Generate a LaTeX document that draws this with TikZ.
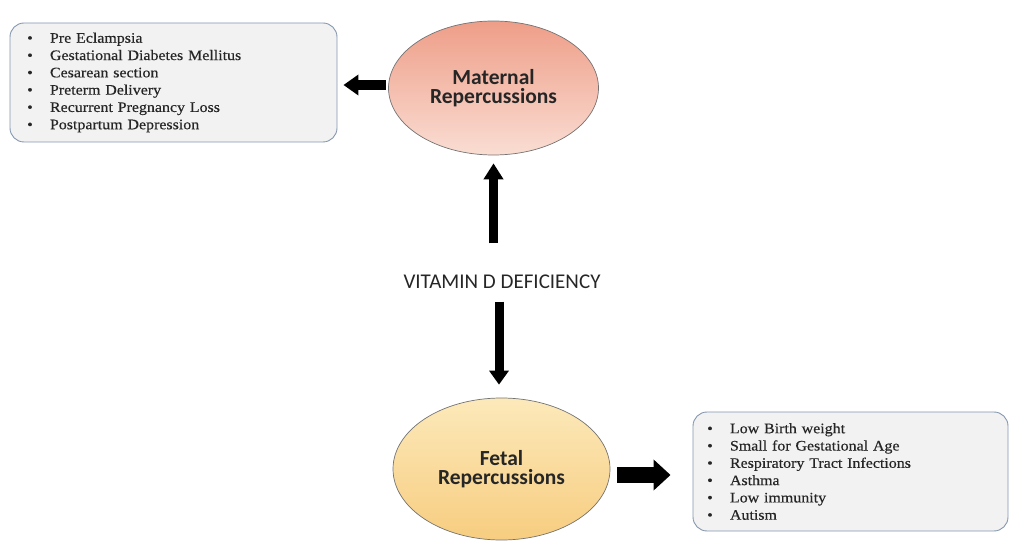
\documentclass[tikz,border=0pt]{standalone}
\usepackage{fontspec}
\setmainfont{Liberation Serif}
\newfontfamily\listfont[FakeStretch=1.1,FakeBold=0.4]{Liberation Serif}
\newfontfamily\calibri{Carlito}
\usetikzlibrary{arrows.meta,shapes.geometric}
\definecolor{boxfill}{HTML}{F2F2F2}
\definecolor{boxborder}{HTML}{8497B0}
\definecolor{matTop}{HTML}{EE9E88}
\definecolor{matBot}{HTML}{FADDD3}
\definecolor{fetTop}{HTML}{FCE9BA}
\definecolor{fetBot}{HTML}{F7CD80}
\definecolor{txt}{HTML}{262626}
\newcommand{\bitem}[1]{\makebox[6pt][c]{\textbullet}\hspace{17pt}#1}
\begin{document}
\begin{tikzpicture}[x=1pt,y=-1pt,
  listbox/.style={draw=boxborder, fill=boxfill, rounded corners=14pt, line width=0.9pt,
    align=left, anchor=center, text=txt, font=\listfont\fontsize{14.5}{17.3}\selectfont},
  repell/.style={ellipse, draw=black!55, line width=0.7pt, inner sep=0pt, text=txt,
    align=center, font=\calibri\bfseries\fontsize{21.5}{19.5}\selectfont},
  blockarrow/.style={draw=black, line width=#1, line cap=butt}
]
\useasboundingbox (0,0) rectangle (1010,545);

% list boxes
\node[listbox, minimum width=327pt, minimum height=119pt, text width=293pt, inner xsep=17pt, inner ysep=0pt]
  (lbox) at (173.5,82.5) {\bitem{Pre Eclampsia}\\ \bitem{Gestational Diabetes Mellitus}\\ \bitem{Cesarean section}\\ \bitem{Preterm Delivery}\\ \bitem{Recurrent Pregnancy Loss}\\ \bitem{Postpartum Depression}};
\node[listbox, minimum width=315pt, minimum height=119pt, text width=287pt, inner xsep=14pt, inner ysep=0pt]
  (rbox) at (850.5,471.5) {\bitem{Low Birth weight}\\ \bitem{Small for Gestational Age}\\ \bitem{Respiratory Tract Infections}\\ \bitem{Asthma}\\ \bitem{Low immunity}\\ \bitem{Autism}};

% ellipses
\node[repell, minimum width=210pt, minimum height=134pt, top color=matTop, bottom color=matBot]
  (mat) at (493.5,88) {Maternal\\Repercussions};
\node[repell, minimum width=217pt, minimum height=142pt, top color=fetTop, bottom color=fetBot]
  (fet) at (501.5,469) {Fetal\\Repercussions};

% central text
\node[inner sep=0pt, text=txt, font=\calibri\fontsize{21}{22}\selectfont] (vit) at (502,281.5) {VITAMIN D DEFICIENCY};

% arrows
\draw[blockarrow=9pt, -{Triangle[width=19pt,length=16pt]}, shorten <=31pt, shorten >=8pt]
  (vit.north -| mat.south) -- (mat.south);
\draw[blockarrow=9pt, -{Triangle[width=19pt,length=14pt]}, shorten <=13pt, shorten >=13pt]
  ([xshift=-3pt]vit.south) -- ([xshift=-3pt]vit.south |- fet.north);
\draw[blockarrow=10pt, -{Triangle[width=20pt,length=15pt]}, shorten <=2pt, shorten >=6pt]
  ([yshift=3pt]mat.west) -- ([yshift=3pt]mat.west -| lbox.east);
\draw[blockarrow=16pt, -{Triangle[width=30pt,length=17pt]}, shorten <=7pt, shorten >=22pt]
  ([yshift=-6pt]fet.east) -- ([yshift=-6pt]fet.east -| rbox.west);
\end{tikzpicture}
\end{document}
